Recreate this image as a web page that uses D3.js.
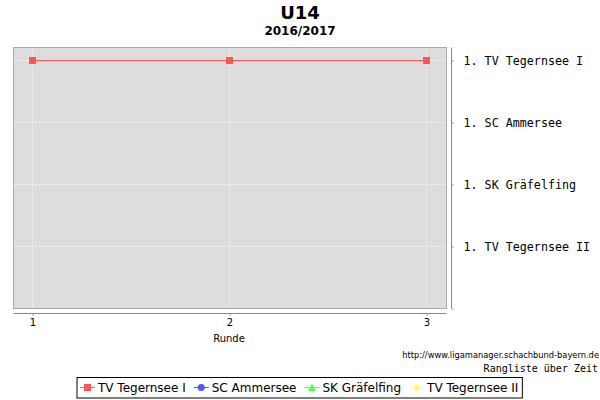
<!DOCTYPE html>
<html><head><meta charset="utf-8">
<script src="https://cdn.jsdelivr.net/npm/d3@7"></script>
<style>body{margin:0;background:#fff}svg{display:block}</style>
</head><body>
<svg id="chart" width="600" height="400"></svg>
<script>
const rounds = [1, 2, 3];
const teams = ["TV Tegernsee I", "SC Ammersee", "SK Gräfelfing", "TV Tegernsee II"];
const yLabels = ["1. TV Tegernsee I", "1. SC Ammersee", "1. SK Gräfelfing", "1. TV Tegernsee II"];
const rankTegernseeI = [1, 1, 1];
const rankAmmersee = [1, 1, 1];
const rankGraefelfing = [1, 1, 1];
const rankTegernseeII = [1, 1, 1];
const colors = ["#ff5555", "#5555ff", "#55ff55", "#ffff55"];
const seriesValues = [rankTegernseeI, rankAmmersee, rankGraefelfing, rankTegernseeII];

const svg = d3.select("#chart");
const plot = {l: 13, t: 47, r: 446, b: 308};

const x = d3.scaleLinear().domain([1, 3]).range([32, 426]);
const y = d3.scaleLinear().domain([0.79, 5]).range([plot.t, plot.b]);

// titles
svg.append("text").attr("x", 300).attr("y", 19).attr("text-anchor", "middle")
  .attr("font-family", "DejaVu Sans").attr("font-weight", "bold").attr("font-size", 18).text("U14");
svg.append("text").attr("x", 300).attr("y", 35).attr("text-anchor", "middle")
  .attr("font-family", "DejaVu Sans").attr("font-weight", "bold").attr("font-size", 12).text("2016/2017");

// plot background
svg.append("rect").attr("x", plot.l + 0.5).attr("y", plot.t + 0.5).attr("width", plot.r - plot.l).attr("height", plot.b - plot.t)
  .attr("fill", "#dddddd").attr("stroke", "#aaaaaa").attr("stroke-width", 1);

// gridlines
const grid = svg.append("g").attr("transform", "translate(0.5,0.5)")
  .attr("stroke", "#ffffff").attr("stroke-width", 0.8).attr("stroke-dasharray", "2,2");
rounds.forEach(r => grid.append("line").attr("x1", x(r)).attr("x2", x(r)).attr("y1", plot.t + 1).attr("y2", plot.b - 1));
yLabels.forEach((l, i) => grid.append("line").attr("x1", plot.l + 1).attr("x2", plot.r - 1).attr("y1", y(i + 1)).attr("y2", y(i + 1)));

// x axis
const xAxis = d3.axisBottom(x).tickValues(rounds).tickFormat(d3.format("d")).tickSize(2).tickSizeOuter(0).tickPadding(3);
const gx = svg.append("g").attr("transform", `translate(0.5,${plot.b + 5.5})`).call(xAxis);
gx.select(".domain").attr("d", `M${plot.l},0H${plot.r}`).attr("stroke", "#888");
gx.selectAll(".tick line").attr("stroke", "#888");
gx.selectAll("text").attr("font-family", "DejaVu Sans").attr("font-size", 10).attr("fill", "#000");
svg.append("text").attr("x", x(2)).attr("y", 342).attr("text-anchor", "middle")
  .attr("font-family", "DejaVu Sans").attr("font-size", 10).text("Runde");

// right y axis
const yAxis = d3.axisRight(y).tickValues([1, 2, 3, 4, 5]).tickFormat(d => yLabels[d - 1] || "").tickSize(2).tickSizeOuter(0).tickPadding(10);
const gy = svg.append("g").attr("transform", `translate(${plot.r + 5.5},0.5)`).call(yAxis);
gy.select(".domain").attr("d", `M0,${plot.t}V${plot.b}`).attr("stroke", "#888");
gy.selectAll(".tick line").attr("stroke", "#888");
gy.selectAll("text").attr("font-family", "DejaVu Sans Mono").attr("font-size", 11.7).attr("fill", "#000");

// series (drawn in reverse order so the first is on top)
const series = svg.append("g").attr("transform", "translate(0.5,0.5)");
const line = d3.line().x((d, i) => x(rounds[i])).y(d => y(d));
for (let s = teams.length - 1; s >= 0; s--) {
  const vals = seriesValues[s];
  series.append("path").attr("d", line(vals)).attr("fill", "none").attr("stroke", colors[s]).attr("stroke-width", 1);
  series.selectAll(null).data(vals).enter().append("rect")
    .attr("x", (d, i) => x(rounds[i]) - 3.5).attr("y", d => y(d) - 3.5)
    .attr("width", 7).attr("height", 7).attr("fill", colors[s]);
}

// source texts
svg.append("text").attr("x", 599).attr("y", 358).attr("text-anchor", "end")
  .attr("font-family", "DejaVu Sans").attr("font-size", 8.3).text("http://www.ligamanager.schachbund-bayern.de");
svg.append("text").attr("x", 598).attr("y", 372).attr("text-anchor", "end")
  .attr("font-family", "DejaVu Sans Mono").attr("font-size", 10).text("Rangliste über Zeit");

// legend
const leg = svg.append("g");
const box = leg.append("rect").attr("y", 377.5).attr("height", 20.5).attr("fill", "#fff").attr("stroke", "#000").attr("stroke-width", 1);
let cx = 78;
teams.forEach((t, i) => {
  const g = leg.append("g");
  g.append("line").attr("x1", cx).attr("x2", cx + 15).attr("y1", 387.5).attr("y2", 387.5).attr("stroke", colors[i]).attr("stroke-width", 1);
  if (i === 0) g.append("rect").attr("x", cx + 4).attr("y", 384).attr("width", 7).attr("height", 7).attr("fill", colors[i]);
  else if (i === 1) g.append("circle").attr("cx", cx + 7.5).attr("cy", 387.5).attr("r", 3.5).attr("fill", colors[i]);
  else if (i === 2) g.append("path").attr("d", `M${cx + 7.5},${383.5}L${cx + 11.5},${391}L${cx + 3.5},${391}Z`).attr("fill", colors[i]);
  else g.append("path").attr("d", `M${cx + 7.5},${384}L${cx + 11},${387.5}L${cx + 7.5},${391}L${cx + 4},${387.5}Z`).attr("fill", colors[i]);
  const tx = g.append("text").attr("x", cx + 18).attr("y", 392).attr("font-family", "DejaVu Sans").attr("font-size", 12).text(t);
  cx += 18 + tx.node().getComputedTextLength() + 8;
});
const total = cx - 8 - 78;
const left = 300 - (total + 8) / 2;
leg.attr("transform", `translate(${Math.round(left - 75)},0)`);
box.attr("x", 75).attr("width", total + 7);
</script>
</body></html>
